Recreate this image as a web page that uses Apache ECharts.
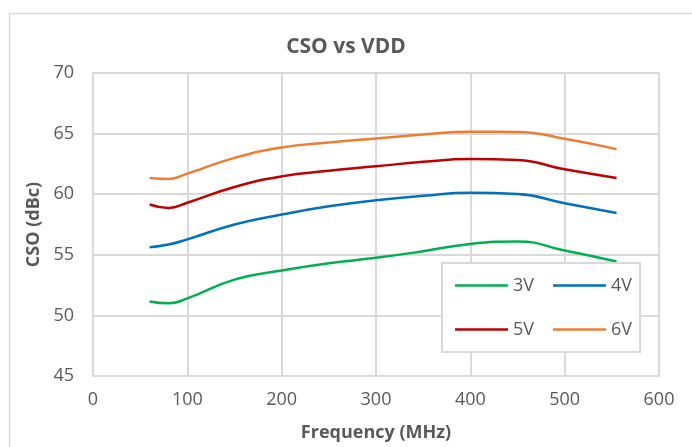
<!DOCTYPE html>
<html>
<head>
<meta charset="utf-8">
<script src="https://cdn.jsdelivr.net/npm/echarts@6/dist/echarts.min.js"></script>
<style>html,body{margin:0;padding:0;background:#fff}#c{width:692px;height:447px}</style>
</head>
<body>
<div id="c"></div>
<script>
const freq = [60, 80, 100, 150, 200, 250, 300, 350, 400, 450, 500, 555];
const v3 = [51.15, 51.0, 51.4, 52.95, 53.7, 54.3, 54.75, 55.3, 55.9, 56.1, 55.35, 54.45];
const v4 = [55.63, 55.85, 56.27, 57.5, 58.32, 59.0, 59.5, 59.87, 60.12, 60.02, 59.25, 58.45];
const v5 = [59.15, 58.87, 59.3, 60.6, 61.47, 61.93, 62.3, 62.67, 62.9, 62.82, 62.05, 61.34];
const v6 = [61.34, 61.26, 61.7, 63.0, 63.85, 64.26, 64.6, 64.92, 65.15, 65.13, 64.58, 63.72];
const names = ['3V', '4V', '5V', '6V'];
const colors = ['#00b050', '#0070c0', '#c00000', '#ed7d31'];
const xTicks = [0, 100, 200, 300, 400, 500, 600];
const yTicks = [45, 50, 55, 60, 65, 70];

const FONT = '"Open Sans", "Liberation Sans", sans-serif';
const grey = '#595959';
const gridCol = '#d9d9d9';
const all = [v3, v4, v5, v6];

const chart = echarts.init(document.getElementById('c'), null, {renderer: 'canvas'});
chart.setOption({
  animation: false,
  backgroundColor: '#fff',
  graphic: [{
    type: 'rect', left: 7, top: 11, z: -10,
    shape: {width: 720, height: 460},
    style: {fill: 'none', stroke: gridCol, lineWidth: 1.5}
  }],
  title: {
    text: 'CSO vs VDD', left: 'center', top: 32,
    textStyle: {fontFamily: FONT, fontSize: 21, fontWeight: 'bold', color: grey}
  },
  legend: {
    data: names,
    orient: 'horizontal',
    left: 442, top: 263,
    width: 185,
    padding: [10, 8, 10, 13],
    itemGap: 19,
    icon: 'rect',
    itemWidth: 53, itemHeight: 2.5,
    backgroundColor: '#fff',
    borderColor: gridCol, borderWidth: 2,
    textStyle: {fontFamily: FONT, fontSize: 18, color: grey, lineHeight: 25}
  },
  grid: {left: 93, right: 33, top: 73, bottom: 70, containLabel: false},
  xAxis: {
    type: 'value', min: xTicks[0], max: xTicks[xTicks.length - 1], interval: 100,
    name: 'Frequency (MHz)', nameLocation: 'middle', nameGap: 48,
    nameTextStyle: {fontFamily: FONT, fontSize: 18, fontWeight: 'bold', color: grey},
    axisLine: {show: true, lineStyle: {color: gridCol, width: 2}},
    axisTick: {show: false},
    axisLabel: {fontFamily: FONT, fontSize: 18, color: grey, margin: 15},
    splitLine: {show: true, lineStyle: {color: gridCol, width: 2}}
  },
  yAxis: {
    type: 'value', min: yTicks[0], max: yTicks[yTicks.length - 1], interval: 5,
    name: 'CSO (dBc)', nameLocation: 'middle', nameGap: 50, nameRotate: 90,
    nameTextStyle: {fontFamily: FONT, fontSize: 18, fontWeight: 'bold', color: grey},
    axisLine: {show: true, lineStyle: {color: gridCol, width: 2}},
    axisTick: {show: false},
    axisLabel: {fontFamily: FONT, fontSize: 18, color: grey, margin: 19},
    splitLine: {show: true, lineStyle: {color: gridCol, width: 2}}
  },
  series: names.map((n, i) => ({
    name: n, type: 'line', smooth: true, symbol: 'none',
    data: freq.map((f, j) => [f, all[i][j]]),
    lineStyle: {color: colors[i], width: 2.5},
    itemStyle: {color: colors[i]},
    z: 2
  }))
});
</script>
</body>
</html>
